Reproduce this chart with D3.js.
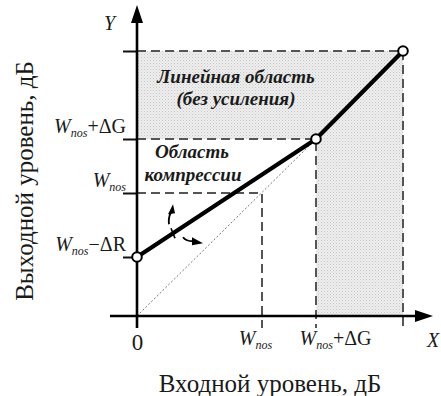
<!DOCTYPE html>
<html><head><meta charset="utf-8">
<script src="https://cdn.jsdelivr.net/npm/d3@7"></script>
<style>
html,body{margin:0;padding:0;background:#fff;}
svg{display:block;}
text{font-family:"Times New Roman",serif;fill:#1a1a1a;}
</style></head>
<body><svg id="c" width="441" height="396"></svg>
<script>
// ---- data ----
const xTickValues = [0, 12.5, 17.9, 26.6];
const xTickLabels = ["0", "W_nos", "W_nos+ΔG", ""];
const yTickValues = [5.9, 12.3, 17.7, 26.5];
const yTickLabels = ["W_nos−ΔR", "W_nos", "W_nos+ΔG", ""];
const curveIn  = [0, 17.9, 26.6];
const curveOut = [5.9, 17.7, 26.5];
const diagIn  = [0, 17.9];
const diagOut = [0, 17.7];
const axisXExtent = [-2.7, 29.6];
const axisYExtent = [-1.2, 31.1];
const regionLinear = ["Линейная область", "(без усиления)"];
const regionCompression = ["Область", "компрессии"];
const xTitle = "Входной уровень, дБ";
const yTitle = "Выходной уровень, дБ";

const svg = d3.select("#c");
const x = d3.scaleLinear().domain([0, 26.6]).range([137, 403]);
const y = d3.scaleLinear().domain([0, 26.5]).range([316, 51]);

// pattern for shaded areas
const defs = svg.append("defs");
const pat = defs.append("pattern").attr("id","dots").attr("width",3).attr("height",3).attr("patternUnits","userSpaceOnUse");
pat.append("rect").attr("width",3).attr("height",3).attr("fill","#eeeeee");
pat.append("rect").attr("width",1).attr("height",1).attr("fill","#c6c6c6");
pat.append("rect").attr("x",1.5).attr("y",1.5).attr("width",1).attr("height",1).attr("fill","#d4d4d4");

const xMax = xTickValues[3], yMax = yTickValues[3];
const xG = xTickValues[2], yG = yTickValues[2];
const xN = xTickValues[1], yN = yTickValues[1];

// shaded region
const shade = [[0,yMax],[xMax,yMax],[xMax,0],[xG,0],[xG,yG],[0,yG]];
svg.append("path")
  .attr("d", d3.line().x(d=>x(d[0])).y(d=>y(d[1]))(shade) + "Z")
  .attr("fill","url(#dots)");

// dashed guides
const guides = [
  [[0,yMax],[xMax,yMax],[xMax,axisYExtent[0]]],
  [[0,yG],[xG,yG],[xG,axisYExtent[0]]],
  [[0,yN],[xN,yN],[xN,axisYExtent[0]]]
];
svg.selectAll("path.guide").data(guides).join("path")
  .attr("class","guide")
  .attr("d", d3.line().x(d=>x(d[0])).y(d=>y(d[1])))
  .attr("fill","none").attr("stroke","#555").attr("stroke-width",2)
  .attr("stroke-dasharray","9,5");

// diagonal reference
svg.append("path")
  .attr("d", d3.line().x((d,i)=>x(diagIn[i])).y((d,i)=>y(diagOut[i]))(diagIn))
  .attr("fill","none").attr("stroke","#777").attr("stroke-width",1)
  .attr("stroke-dasharray","2,2");

// label helper with subscript
function richLabel(sel, s, size){
  sel.text(null);
  const m = s.match(/^(\w)_([a-z]+)(.*)$/);
  if(!m){ sel.attr("font-size",size).text(s); return; }
  sel.append("tspan").attr("font-style","italic").attr("font-size",size).text(m[1]);
  sel.append("tspan").attr("font-style","italic").attr("font-size",size*0.6).attr("dy",4).text(m[2]);
  if(m[3]) sel.append("tspan").attr("font-size",size).attr("dy",-4).text(m[3]);
}

// y axis ticks & labels
const yAx = svg.append("g").attr("transform",`translate(${x(0)},0)`)
  .call(d3.axisLeft(y).tickValues(yTickValues).tickSize(14).tickFormat((d,i)=>yTickLabels[i]));
yAx.select(".domain").remove();
yAx.attr("font-family",null);
yAx.selectAll(".tick line").attr("stroke","#111").attr("stroke-width",2);
yAx.selectAll(".tick text")
  .attr("x",-11).attr("dy",null).attr("y",-7)
  .attr("text-anchor","end").attr("fill","#1a1a1a")
  .each(function(d,i){ richLabel(d3.select(this), yTickLabels[i], 20); });

// x axis labels
const xAx = svg.append("g").attr("transform",`translate(0,${y(0)})`)
  .call(d3.axisBottom(x).tickValues(xTickValues).tickSize(0).tickFormat((d,i)=>xTickLabels[i]));
xAx.select(".domain").remove();
xAx.attr("font-family",null);
xAx.selectAll(".tick text")
  .attr("dy",null).attr("y",29)
  .attr("fill","#1a1a1a")
  .each(function(d,i){
    const t = d3.select(this);
    richLabel(t, xTickLabels[i], i===0?23:20);
    if(i===1) t.attr("x",-7);
    if(i===2) t.attr("x",19);
    if(i===0) t.attr("y",34);
  });

// main axes with arrows
svg.append("line").attr("x1",x(axisXExtent[0])).attr("x2",x(axisXExtent[1])-10)
  .attr("y1",y(0)).attr("y2",y(0)).attr("stroke","#000").attr("stroke-width",2.6);
svg.append("line").attr("x1",x(0)).attr("x2",x(0))
  .attr("y1",y(axisYExtent[0])).attr("y2",y(axisYExtent[1])+10).attr("stroke","#000").attr("stroke-width",2.6);
const tipX = [x(axisXExtent[1]), y(0)];
svg.append("path").attr("d",`M${tipX[0]},${tipX[1]} L${tipX[0]-18},${tipX[1]-6} L${tipX[0]-18},${tipX[1]+6}Z`).attr("fill","#000");
const tipY = [x(0), y(axisYExtent[1])];
svg.append("path").attr("d",`M${tipY[0]},${tipY[1]} L${tipY[0]-6},${tipY[1]+18} L${tipY[0]+6},${tipY[1]+18}Z`).attr("fill","#000");

// main transfer curve
svg.append("path")
  .attr("d", d3.line().x((d,i)=>x(curveIn[i])).y((d,i)=>y(curveOut[i]))(curveIn))
  .attr("fill","none").attr("stroke","#000").attr("stroke-width",4.2).attr("stroke-linejoin","round");
svg.selectAll("circle.pt").data(curveIn).join("circle")
  .attr("class","pt")
  .attr("cx",(d,i)=>x(curveIn[i])).attr("cy",(d,i)=>y(curveOut[i]))
  .attr("r",4.8).attr("fill","#fff").attr("stroke","#000").attr("stroke-width",2);

// rotation arrows on the compression segment
const aIn = 3.6;
const aOut = curveOut[0] + (curveOut[1]-curveOut[0])*(aIn-curveIn[0])/(curveIn[1]-curveIn[0]);
const ax = x(aIn), ay = y(aOut);
const g = svg.append("g").attr("transform",`translate(${ax},${ay})`);
g.append("line").attr("x1",-2).attr("y1",-5).attr("x2",2).attr("y2",5).attr("stroke","#000").attr("stroke-width",1.6);
g.append("path").attr("d","M-4,-9 Q-5,-15 -2,-21").attr("fill","none").attr("stroke","#000").attr("stroke-width",1.8);
g.append("path").attr("d","M0,-29 L-5,-19 L2,-20Z").attr("fill","#000");
g.append("path").attr("d","M10,4 Q13,8 20,8").attr("fill","none").attr("stroke","#000").attr("stroke-width",1.8);
g.append("path").attr("d","M30,10 L19,4 L19,12Z").attr("fill","#000");

// region labels
svg.append("g").selectAll("text").data(regionLinear).join("text")
  .attr("x",236).attr("y",(d,i)=>83+i*22).attr("text-anchor","middle")
  .attr("font-style","italic").attr("font-weight","bold").attr("font-size",19).text(d=>d);
svg.append("g").selectAll("text").data(regionCompression).join("text")
  .attr("x",(d,i)=> i===0?192:193).attr("y",(d,i)=>158+i*23).attr("text-anchor","middle")
  .attr("font-style","italic").attr("font-weight","bold").attr("font-size",19).text(d=>d);

// axis letters
svg.append("text").attr("x",104).attr("y",30).attr("font-style","italic").attr("font-size",20).text("Y");
svg.append("text").attr("x",427).attr("y",347).attr("font-style","italic").attr("font-size",20).text("X");

// titles
svg.append("text").attr("x",270).attr("y",392).attr("text-anchor","middle").attr("font-size",25).text(xTitle);
svg.append("text").attr("transform","translate(33,181) rotate(-90)").attr("text-anchor","middle").attr("font-size",25).text(yTitle);
</script></body></html>
